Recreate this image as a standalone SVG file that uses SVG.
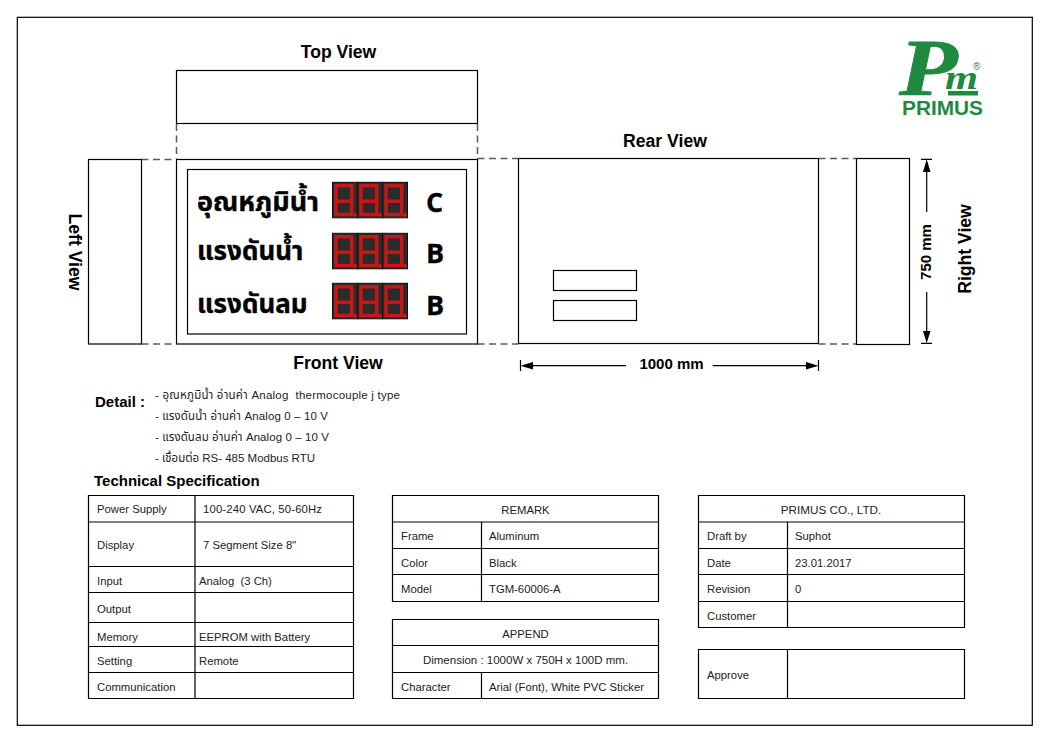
<svg xmlns="http://www.w3.org/2000/svg" width="1051" height="743" viewBox="0 0 1051 743">
<style>
text{font-family:"Liberation Sans",Arial,sans-serif;fill:#000;white-space:pre}
.b{fill:none;stroke:#000;stroke-width:1.2}
.d{fill:none;stroke:#5a5a5a;stroke-width:1.5;stroke-dasharray:7 4.5}
.t{font-weight:700;font-size:17.6px}
.m{font-weight:700;font-size:15px}
.s{font-size:11.3px;fill:#222}
.c{text-anchor:middle}
.th{font-family:"Noto Sans Thai","Noto Sans","DejaVu Sans",sans-serif;font-weight:700;font-size:27px;stroke:#000;stroke-width:.35}
.u{font-family:"Open Sans","DejaVu Sans",sans-serif;font-weight:700;font-size:27px;stroke:#000;stroke-width:.3}
.dt{font-family:"Liberation Sans","Noto Sans Thai","DejaVu Sans",sans-serif;font-size:11.5px;fill:#222}
.bg{fill:#2b2b2b;stroke:#111;stroke-width:1}
.seg{fill:none;stroke:#c81616;stroke-width:3.5}
.dot{fill:#d81616}
.dim{stroke:#000;stroke-width:1.2;fill:none}
.ah{fill:#000}
.lg{fill:#1f8a3f}
.lgs{font-family:"Liberation Serif",serif;font-weight:700;font-style:italic;fill:#1f8a3f}
</style>
<defs>
<g id="dig">
<rect class="bg" width="25" height="35.5"/>
<path class="seg" d="M3.500 3.500H19.200V32.200H3.500ZM3.500 19H19.200"/>
<rect class="dot" x="21" y="31" width="3.200" height="3.200"/>
</g>
<g id="disp">
<use href="#dig" x="0"/><use href="#dig" x="25"/><use href="#dig" x="50"/>
</g>
</defs>
<rect id="frame" x="17.300" y="17.300" width="1015" height="708" class="b"/>
<g id="connectors">
<path class="d" d="M176.500 124V159M477.500 124V159M141.500 159.500H176.500M141.500 344H176.500M477.500 158.500H518.500M477.500 344H518.500M818.500 158.500H856.500M818.500 344H856.500"/>
<path class="dim" d="M520.500 360V371M818.500 360V371M532 365.700H626M712.700 365.700H807M921 159.300H932M921 343.300H932M926.700 171V212M926.700 292V332"/>
<path class="ah" d="M520.500 365.700L533 362V369.500ZM818.500 365.700L806 362V369.500ZM926.700 159.300L923 172H930.500ZM926.700 343.300L923 331H930.500Z"/>
</g>
<g id="top-view">
<rect class="b" x="176.500" y="70.500" width="301" height="53"/>
<text class="t c" x="338.500" y="58">Top View</text>
</g>
<g id="left-view">
<rect class="b" x="88.500" y="159.500" width="53" height="184.500"/>
<text class="t c" transform="translate(69 252) rotate(90)">Left View</text>
</g>
<g id="front-view">
<rect class="b" x="176.500" y="159.500" width="301" height="184.500"/>
<rect class="b" x="187.500" y="169.500" width="279" height="164.500"/>
<text class="th" x="197" y="211">อุณหภูมิน้ำ</text>
<text class="th" x="197" y="260" style="font-size:26px">แรงดันน้ำ</text>
<text class="th" x="197" y="313" style="font-size:26px">แรงดันลม</text>
<use href="#disp" x="332.500" y="182.300"/>
<use href="#disp" x="332.500" y="233.300"/>
<use href="#disp" x="332.500" y="283.300"/>
<text class="u" x="426" y="212">C</text>
<text class="u" x="426" y="263">B</text>
<text class="u" x="426" y="315">B</text>
<text class="t c" x="338" y="369">Front View</text>
</g>
<g id="rear-view">
<rect class="b" x="518.500" y="158.500" width="300" height="185"/>
<rect class="b" x="553.500" y="270.500" width="83" height="20"/>
<rect class="b" x="553.500" y="300.500" width="83" height="20"/>
<text class="t c" x="665" y="147">Rear View</text>
</g>
<g id="right-view">
<rect class="b" x="856.500" y="158.500" width="53" height="186"/>
<text class="t c" transform="translate(971 249) rotate(-90)">Right View</text>
</g>
<g id="dimensions">
<text class="m c" x="671.500" y="369">1000 mm</text>
<text class="m c" transform="translate(931 252) rotate(-90)">750 mm</text>
</g>
<g id="logo">
<text class="lgs" transform="translate(899 95) scale(1.2 1)" style="font-size:80px;stroke:#1f8a3f;stroke-width:.8">P</text>
<text class="lgs" transform="translate(945 89) scale(1.25 1)" style="font-size:34px">m</text>
<text class="lg" style="font-size:10px;fill:#1f8a3f" x="973" y="70">®</text>
<rect class="lg" x="948" y="91" width="30" height="4.500"/>
<text style="font-weight:700;font-size:19.500px;fill:#1f8a3f" x="902" y="115" textLength="81" lengthAdjust="spacingAndGlyphs">PRIMUS</text>
</g>
<g id="detail">
<text class="m" x="95" y="407">Detail :</text>
<text class="dt" x="155" y="399" textLength="245">- อุณหภูมิน้ำ อ่านค่า Analog  thermocouple j type</text>
<text class="dt" x="155" y="420" textLength="173">- แรงดันน้ำ อ่านค่า Analog 0 – 10 V</text>
<text class="dt" x="155" y="441" textLength="174">- แรงดันลม อ่านค่า Analog 0 – 10 V</text>
<text class="dt" x="155" y="462" textLength="160">- เชื่อมต่อ RS- 485 Modbus RTU</text>
<text class="m" x="94" y="486">Technical Specification</text>
</g>
<g id="table-spec">
<path class="b" d="M88.500 495.500H353.500V698.500H88.500ZM195 495.500V698.500M88.500 522H353.500M88.500 566.500H353.500M88.500 592.500H353.500M88.500 622.500H353.500M88.500 646.500H353.500M88.500 672.500H353.500"/>
<text class="s" x="97" y="513">Power Supply</text><text class="s" x="203" y="513" textLength="119">100-240 VAC, 50-60Hz</text>
<text class="s" x="97" y="549">Display</text><text class="s" x="203" y="549">7 Segment Size 8"</text>
<text class="s" x="97" y="585">Input</text><text class="s" x="199" y="585">Analog  (3 Ch)</text>
<text class="s" x="97" y="613">Output</text>
<text class="s" x="97" y="641">Memory</text><text class="s" x="199" y="641">EEPROM with Battery</text>
<text class="s" x="97" y="665">Setting</text><text class="s" x="199" y="665">Remote</text>
<text class="s" x="97" y="691">Communication</text>
</g>
<g id="table-remark">
<path class="b" d="M392.500 495.500H658.500V601.500H392.500ZM481.500 522V601.500M392.500 522H658.500M392.500 548.500H658.500M392.500 574.500H658.500"/>
<text class="s c" x="525.500" y="514">REMARK</text>
<text class="s" x="401" y="540">Frame</text><text class="s" x="489" y="540">Aluminum</text>
<text class="s" x="401" y="567">Color</text><text class="s" x="489" y="567">Black</text>
<text class="s" x="401" y="593">Model</text><text class="s" x="489" y="593">TGM-60006-A</text>
</g>
<g id="table-append">
<path class="b" d="M392.500 619.500H658.500V698.500H392.500ZM392.500 645.500H658.500M392.500 672.500H658.500M481.500 672.500V698.500"/>
<text class="s c" x="525.500" y="638">APPEND</text>
<text class="s c" x="525.500" y="664" style="font-size:11.5px">Dimension : 1000W x 750H x 100D mm.</text>
<text class="s" x="401" y="691">Character</text><text class="s" x="489" y="691">Arial (Font), White PVC Sticker</text>
</g>
<g id="table-company">
<path class="b" d="M698.500 495.500H964.500V627.500H698.500ZM787.500 522V627.500M698.500 522H964.500M698.500 548.500H964.500M698.500 574.500H964.500M698.500 601.500H964.500"/>
<text class="s c" x="831" y="514" style="font-size:11.7px">PRIMUS CO., LTD.</text>
<text class="s" x="707" y="540">Draft by</text><text class="s" x="795" y="540">Suphot</text>
<text class="s" x="707" y="567">Date</text><text class="s" x="795" y="567">23.01.2017</text>
<text class="s" x="707" y="593">Revision</text><text class="s" x="795" y="593">0</text>
<text class="s" x="707" y="620">Customer</text>
</g>
<g id="table-approve">
<path class="b" d="M698.500 649.500H964.500V698.500H698.500ZM787.500 649.500V698.500"/>
<text class="s" x="707" y="679">Approve</text>
</g>
</svg>
